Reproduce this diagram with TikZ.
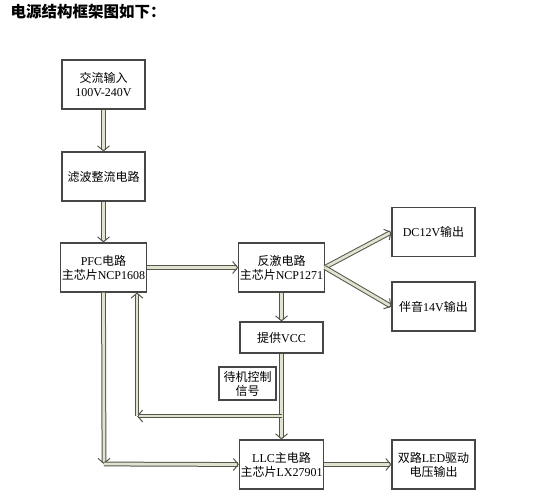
\documentclass[tikz,border=0pt]{standalone}
\usepackage{fontspec}
\setmainfont{Liberation Serif}
\newfontfamily\cjk{Noto Sans CJK SC}
\usetikzlibrary{arrows.meta,positioning}
\definecolor{pipefill}{RGB}{226,226,208}
\definecolor{pipeedge}{RGB}{85,85,75}
\definecolor{boxedge}{RGB}{70,70,70}

\begin{document}
\begin{tikzpicture}

% definitions
\tikzstyle{block} = [rectangle, minimum width=83pt, minimum height=49pt, inner sep=1pt, text centered, draw=boxedge, line width=1.1pt, align=center, font=\fontsize{12}{14}\selectfont]

\tikzstyle{smallblock} = [block, minimum height=31pt]

\tikzstyle{note} = [block, minimum width=57pt, minimum height=33pt]

\tikzstyle{pipe} = [draw=pipeedge, line width=1pt, double=pipefill, double distance=2.8pt, -{Straight Barb[length=5pt,width=12pt]}]

\useasboundingbox (0,0) rectangle (552pt,-495pt);

% the graph
\node (title) [anchor=west, font=\fontsize{15.5}{18}\selectfont] at (7pt,-12pt) {\cjk\bfseries 电源结构框架图如下：};

\node (ac) [block] at (103.5pt,-84.5pt) {{\cjk 交流输入}\\100V-240V};

\node (filter) [block, below of=ac, node distance=92pt] {\cjk 滤波整流电路};

\node (pfc) [block, below of=filter, node distance=91pt] {PFC{\cjk 电路}\\{\cjk 主芯片}NCP1608};

\node (flyback) [block, right of=pfc, node distance=178pt] {{\cjk 反激电路}\\{\cjk 主芯片}NCP1271};

\node (vcc) [smallblock, below of=flyback, node distance=70pt] {{\cjk 提供}VCC};

\node (llc) [block, below of=vcc, node distance=127pt] {LLC{\cjk 主电路}\\{\cjk 主芯片}LX27901};

\node (standby) [note] at (247.5pt,-383.5pt) {{\cjk 待机控制}\\{\cjk 信号}};

\node (dc12) [block] at (433.5pt,-232pt) {DC12V{\cjk 输出}};

\node (audio) [block, below of=dc12, node distance=74.5pt] {{\cjk 伴音}14V{\cjk 输出}};

\node (led) [block, right of=llc, node distance=152pt] {{\cjk 双路}LED{\cjk 驱动}\\{\cjk 电压输出}};

\coordinate (tap) at (281.5pt,-416pt);
\coordinate (corner) at (137pt,-416pt);
\coordinate (drop) at (104pt,-464pt);

\draw [pipe] (ac) -- (filter);
\draw [pipe] (filter) -- (pfc);
\draw [pipe] (pfc) -- (flyback);
\draw [pipe] (flyback.east) -- (dc12.west);
\draw [pipe] (flyback.east) -- (audio.west);
\draw [pipe] (flyback) -- (vcc);
\draw [pipe] (vcc) -- (llc);
\draw [pipe] (tap) -- (corner);
\draw [pipe] (corner) -- (corner |- pfc.south);
\draw [pipe] (pfc.south) -- (drop);
\draw [pipe] (drop) -- (llc.west);
\draw [pipe] (llc) -- (led);

\end{tikzpicture}
\end{document}
